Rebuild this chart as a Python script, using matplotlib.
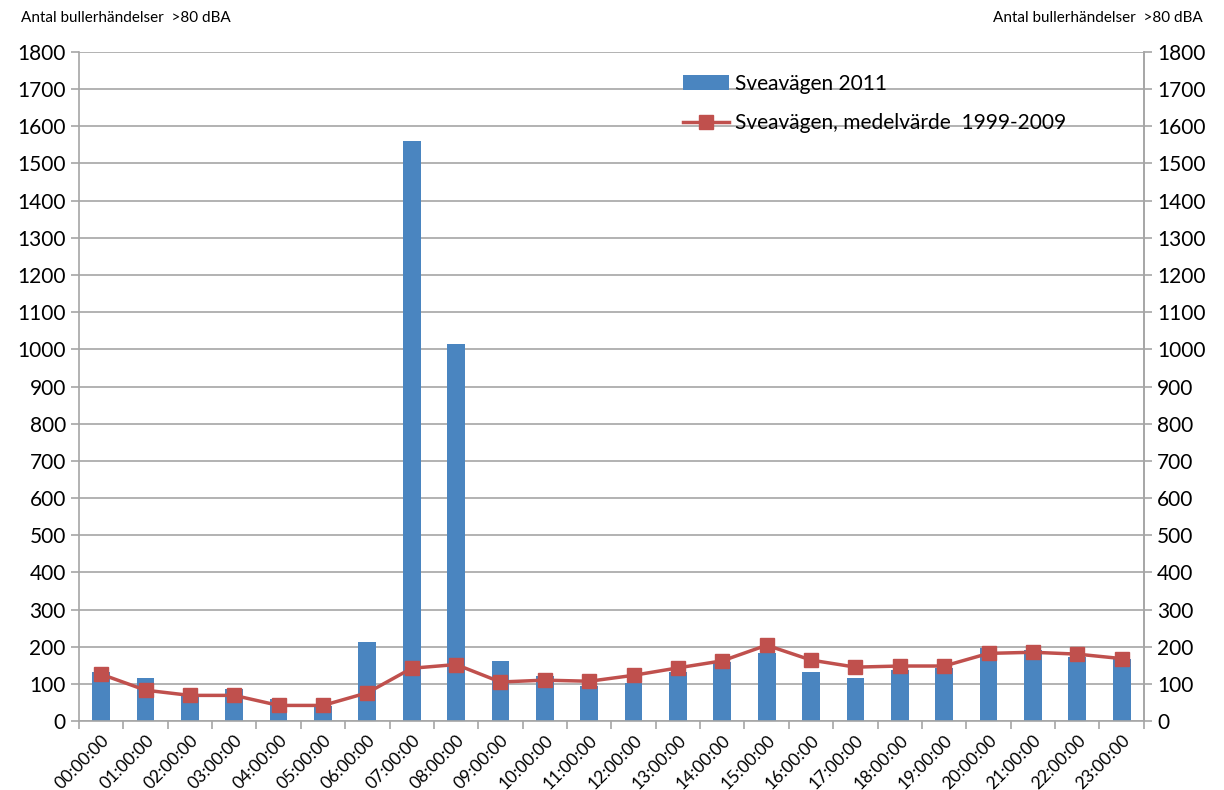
import numpy as np
import matplotlib
matplotlib.use("Agg")
import matplotlib.pyplot as plt

plt.rcParams["font.family"] = ["Lato", "DejaVu Sans"]

hours = [f"{h:02d}:00:00" for h in range(24)]
sveavagen_2011 = [133, 116, 72, 85, 60, 40, 212, 1560, 1015, 161, 121, 94,
                  101, 133, 160, 184, 133, 117, 138, 142, 197, 190, 173, 168]
medel_1999_2009 = [126, 83, 69, 69, 42, 42, 76, 142, 152, 105, 110, 107,
                   123, 143, 162, 204, 164, 145, 148, 148, 182, 185, 180, 168]
y_ticks = list(range(0, 1900, 100))
y_label = "Antal bullerhändelser  >80 dBA"

bar_color = "#4A85C0"
line_color = "#C0504D"
grid_color = "#A6A6A6"

fig = plt.figure(figsize=(12.24, 7.9), dpi=100)
ax = fig.add_axes([0.0645, 0.0873, 0.870, 0.8469])
ax.set_axisbelow(True)
x = np.arange(len(hours))

bars = ax.bar(x, sveavagen_2011, width=0.4, color=bar_color, zorder=2)
line, = ax.plot(x, medel_1999_2009, color=line_color, lw=2.5, marker="s",
                ms=10, zorder=3)

ax.set_xlim(-0.5, len(hours) - 0.5)
ax.set_ylim(0, 1800)
ax.set_yticks(y_ticks)
ax.yaxis.grid(True, color=grid_color, lw=1.2)
ax.tick_params(axis="y", labelsize=15, length=6, color=grid_color, width=1.2)

# category labels centred, tick marks between categories
ax.set_xticks(x)
ax.set_xticklabels(hours, rotation=45, ha="right", rotation_mode="anchor",
                   fontsize=12.5)
ax.tick_params(axis="x", which="major", length=0, pad=8)
ax.set_xticks(np.arange(-0.5, len(hours)), minor=True)
ax.tick_params(axis="x", which="minor", length=6, color=grid_color, width=1.2)

ax.spines["top"].set_visible(False)
for side in ["left", "right", "bottom"]:
    ax.spines[side].set_color(grid_color)
    ax.spines[side].set_linewidth(1.2)

ax2 = ax.twinx()
ax2.set_ylim(0, 1800)
ax2.set_yticks(y_ticks)
ax2.tick_params(axis="y", labelsize=15, length=6, color=grid_color, width=1.2)
for side in ["top", "left", "bottom"]:
    ax2.spines[side].set_visible(False)
ax2.spines["right"].set_color(grid_color)
ax2.spines["right"].set_linewidth(1.2)

ax2.legend([bars, line],
           ["Sveavägen 2011", "Sveavägen, medelvärde  1999-2009"],
           loc="upper left", bbox_to_anchor=(0.55, 0.995), frameon=False,
           fontsize=15, handlelength=2.2, handletextpad=0.3,
           labelspacing=0.9)

fig.text(0.017, 0.977, y_label, fontsize=11, va="center", ha="left")
fig.text(0.983, 0.977, y_label, fontsize=11, va="center", ha="right")

fig.savefig("out.png", dpi=100)
